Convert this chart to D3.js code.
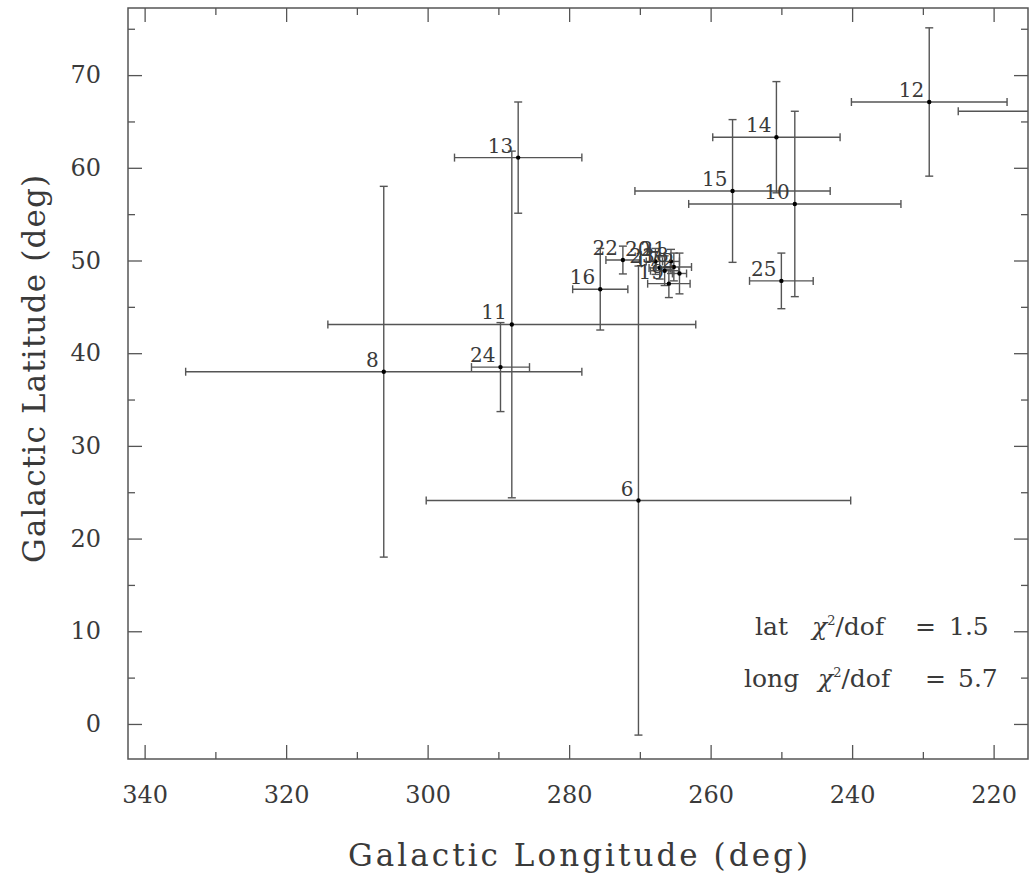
<!DOCTYPE html>
<html>
<head>
<meta charset="utf-8">
<script src="https://cdn.jsdelivr.net/npm/d3@7"></script>
<style>
  html, body { margin: 0; padding: 0; background: #fff; }
  svg { display: block; }
  text { font-family: "DejaVu Serif", "Liberation Serif", serif; fill: #3a3a3a; }
</style>
</head>
<body>
<script>
// ---- data ----
const labels = ["6", "8", "10", "11", "12", "13", "14", "15", "16", "22", "24", "25",
                "20", "21", "23", "17", "18", "19", "2", "9"];
const longitude = [270.2, 306.2, 248.1, 288.1, 229.1, 287.2, 250.7, 256.9, 275.6, 272.4, 289.7, 250.0,
                   267.8, 265.6, 267.2, 266.5, 265.2, 265.9, 264.4, 211.0];
const latitude = [24.1, 38.0, 56.1, 43.1, 67.1, 61.1, 63.3, 57.5, 46.9, 50.05, 38.5, 47.8,
                  49.9, 49.9, 49.2, 48.9, 49.3, 47.5, 48.6, 66.1];
const longitudeErr = [30.0, 28.0, 15.0, 26.0, 11.0, 9.0, 9.0, 13.8, 3.9, 2.4, 4.1, 4.5,
                      1.3, 1.2, 1.5, 2.0, 2.5, 3.0, 1.0, 14.0];
const latitudeErr = [25.3, 20.0, 10.0, 18.7, 8.0, 6.0, 6.0, 7.7, 4.4, 1.5, 4.8, 3.0,
                     1.4, 1.3, 1.2, 1.6, 1.5, 1.5, 2.2, 8.0];

const lonTicks = [340, 320, 300, 280, 260, 240, 220];
const lonMinorTicks = [330, 310, 290, 270, 250, 230];
const latTicks = [0, 10, 20, 30, 40, 50, 60, 70];
const latMinorTicks = [5, 15, 25, 35, 45, 55, 65, 75];
const lonDomain = [342.35, 215.14];
const latDomain = [-3.78, 77.24];

const xTitle = "Galactic Longitude (deg)";
const yTitle = "Galactic Latitude (deg)";
const fitNames = ["lat", "long"];
const fitValues = ["1.5", "5.7"];

// ---- layout ----
const W = 1032, H = 882;
const L = 128, R = 1028, T = 8, B = 759;
const LINE = "#555";

const points = labels.map((lab, i) => ({
  label: lab, l: longitude[i], b: latitude[i], el: longitudeErr[i], eb: latitudeErr[i]
}));

const x = d3.scaleLinear().domain(lonDomain).range([L, R]);
const y = d3.scaleLinear().domain(latDomain).range([B, T]);
const inside = d => x(d.l) >= L && x(d.l) <= R && y(d.b) >= T && y(d.b) <= B;

const svg = d3.select("body").append("svg").attr("width", W).attr("height", H);

svg.append("defs").append("clipPath").attr("id", "plotclip")
  .append("rect").attr("x", L).attr("y", T).attr("width", R - L).attr("height", B - T);

// ---- axes (ticks inward on all four sides) ----
function styleAxis(g) {
  g.select(".domain").remove();
  g.selectAll(".tick line").attr("stroke", LINE).attr("stroke-width", 1.3);
  g.selectAll(".tick text").attr("fill", "#3a3a3a").style("font-family", "\"DejaVu Serif\", serif");
}
const MAJ = 14, MIN = 7;

svg.append("g").attr("transform", `translate(0,${B})`)
  .call(d3.axisBottom(x).tickValues(lonTicks).tickSize(-MAJ).tickPadding(27).tickFormat(d3.format("d")))
  .call(styleAxis)
  .call(g => g.selectAll(".tick text").attr("font-size", 24));
svg.append("g").attr("transform", `translate(0,${B})`)
  .call(d3.axisBottom(x).tickValues(lonMinorTicks).tickSize(-MIN).tickFormat(""))
  .call(styleAxis);
svg.append("g").attr("transform", `translate(0,${T})`)
  .call(d3.axisTop(x).tickValues(lonTicks).tickSize(-MAJ).tickFormat(""))
  .call(styleAxis);
svg.append("g").attr("transform", `translate(0,${T})`)
  .call(d3.axisTop(x).tickValues(lonMinorTicks).tickSize(-MIN).tickFormat(""))
  .call(styleAxis);

svg.append("g").attr("transform", `translate(${L},0)`)
  .call(d3.axisLeft(y).tickValues(latTicks).tickSize(-MAJ).tickPadding(27).tickFormat(d3.format("d")))
  .call(styleAxis)
  .call(g => g.selectAll(".tick text").attr("font-size", 24));
svg.append("g").attr("transform", `translate(${L},0)`)
  .call(d3.axisLeft(y).tickValues(latMinorTicks).tickSize(-MIN).tickFormat(""))
  .call(styleAxis);
svg.append("g").attr("transform", `translate(${R},0)`)
  .call(d3.axisRight(y).tickValues(latTicks).tickSize(-MAJ).tickFormat(""))
  .call(styleAxis);
svg.append("g").attr("transform", `translate(${R},0)`)
  .call(d3.axisRight(y).tickValues(latMinorTicks).tickSize(-MIN).tickFormat(""))
  .call(styleAxis);

// frame
svg.append("rect").attr("x", L).attr("y", T).attr("width", R - L).attr("height", B - T)
  .attr("fill", "none").attr("stroke", LINE).attr("stroke-width", 1.5);

// ---- error bars ----
const plot = svg.append("g").attr("clip-path", "url(#plotclip)");
const CAP = 4;
const eb = plot.append("g").attr("stroke", LINE).attr("stroke-width", 1.4).attr("fill", "none")
  .selectAll("g").data(points).join("g");

eb.append("line")
  .attr("x1", d => x(d.l - d.el)).attr("x2", d => x(d.l + d.el))
  .attr("y1", d => y(d.b)).attr("y2", d => y(d.b));
eb.append("line")
  .attr("x1", d => x(d.l - d.el)).attr("x2", d => x(d.l - d.el))
  .attr("y1", d => y(d.b) - CAP).attr("y2", d => y(d.b) + CAP);
eb.append("line")
  .attr("x1", d => x(d.l + d.el)).attr("x2", d => x(d.l + d.el))
  .attr("y1", d => y(d.b) - CAP).attr("y2", d => y(d.b) + CAP);
eb.append("line")
  .attr("x1", d => x(d.l)).attr("x2", d => x(d.l))
  .attr("y1", d => y(d.b - d.eb)).attr("y2", d => y(d.b + d.eb));
eb.append("line")
  .attr("x1", d => x(d.l) - CAP).attr("x2", d => x(d.l) + CAP)
  .attr("y1", d => y(d.b + d.eb)).attr("y2", d => y(d.b + d.eb));
eb.append("line")
  .attr("x1", d => x(d.l) - CAP).attr("x2", d => x(d.l) + CAP)
  .attr("y1", d => y(d.b - d.eb)).attr("y2", d => y(d.b - d.eb));

// points
plot.append("g").selectAll("circle").data(points.filter(inside)).join("circle")
  .attr("cx", d => x(d.l)).attr("cy", d => y(d.b)).attr("r", 2.2).attr("fill", "#000");

// labels (only for points whose centre lies inside the frame)
plot.append("g").selectAll("text").data(points.filter(inside)).join("text")
  .attr("x", d => x(d.l) - 5).attr("y", d => y(d.b) - 5)
  .attr("text-anchor", "end").attr("font-size", 20).attr("fill", "#222")
  .text(d => d.label);

// ---- chi-square annotation ----
const ann = svg.append("g").attr("font-size", 25).attr("fill", "#333");
const annY = [y(9.6), y(4.0)];
const nameX = [R - 273, R - 284];
const chiX = [R - 216, R - 210];
const eqX = [R - 113, R - 103];
const valX = [R - 79, R - 70];
fitNames.forEach((name, i) => {
  const t = ann.append("text").attr("y", annY[i]);
  t.append("tspan").attr("x", nameX[i]).text(name);
  t.append("tspan").attr("x", chiX[i]).attr("font-style", "italic").text("χ");
  t.append("tspan").attr("font-size", 13).attr("dy", -10).text("2");
  t.append("tspan").attr("dy", 10).text("/dof");
  t.append("tspan").attr("x", eqX[i]).text("=");
  t.append("tspan").attr("x", valX[i]).text(fitValues[i]);
});

// ---- axis titles ----
svg.append("text").attr("x", (L + R) / 2).attr("y", 866)
  .attr("text-anchor", "middle").attr("font-size", 31)
  .attr("textLength", 460).attr("lengthAdjust", "spacing")
  .text(xTitle);
svg.append("text").attr("transform", `translate(45,369) rotate(-90)`)
  .attr("text-anchor", "middle").attr("font-size", 31)
  .attr("textLength", 388).attr("lengthAdjust", "spacing")
  .text(yTitle);
</script>
</body>
</html>
